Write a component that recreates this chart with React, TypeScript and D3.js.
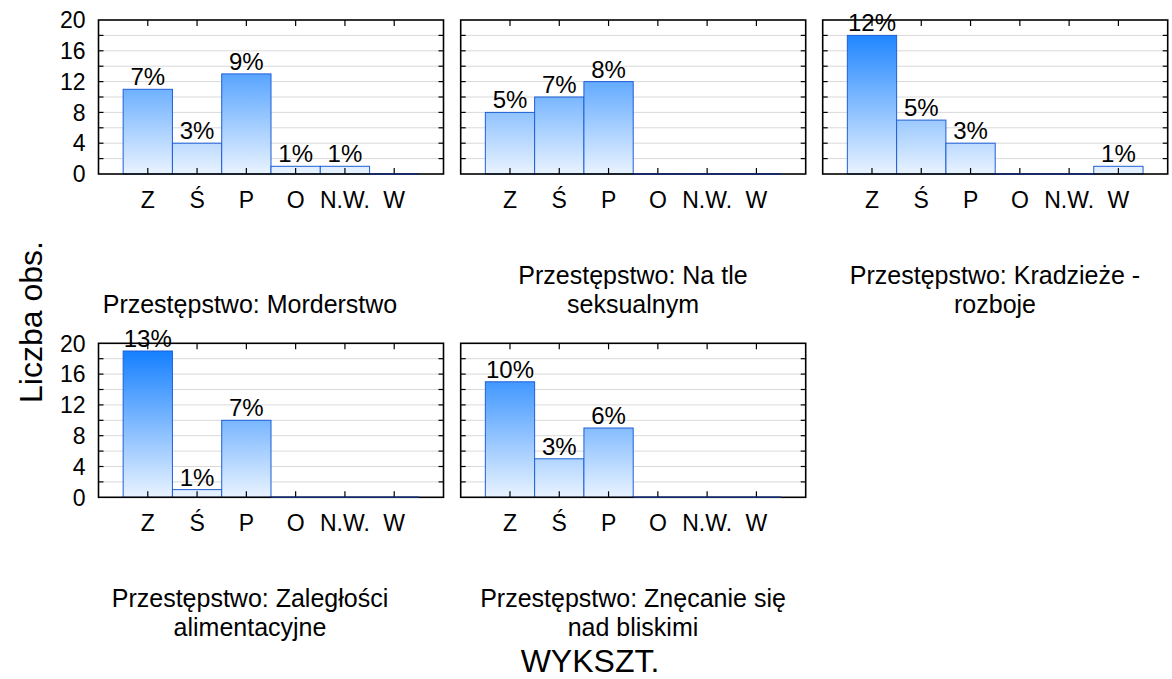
import React from 'react';
import * as d3 from 'd3';

const categories = ['Z', 'Ś', 'P', 'O', 'N.W.', 'W'];
const panelTitles = [
  ['Przestępstwo: Morderstwo'],
  ['Przestępstwo: Na tle', 'seksualnym'],
  ['Przestępstwo: Kradzieże -', 'rozboje'],
  ['Przestępstwo: Zaległości', 'alimentacyjne'],
  ['Przestępstwo: Znęcanie się', 'nad bliskimi'],
];
const counts = [
  [11, 4, 13, 1, 1, 0],
  [8, 10, 12, 0, 0, 0],
  [18, 7, 4, 0, 0, 1],
  [19, 1, 10, 0, 0, 0],
  [15, 5, 9, 0, 0, 0],
];
const yTicks = [0, 4, 8, 12, 16, 20];
const yGrid = [2, 4, 6, 8, 10, 12, 14, 16, 18];

const total = d3.sum(counts.flat());

const colLeft = [98.5, 460.7, 822.7];
const rowTop = [20, 343.3];
const titleCx = [250, 633, 995];
const pw = 345;
const ph = 154;
const font = 'Liberation Sans, Arial, Helvetica, sans-serif';
const barStroke = '#1f5fd6';

const Panel = ({ idx }: { idx: number }) => {
  const col = idx % 3;
  const row = Math.floor(idx / 3);
  const left = colLeft[col];
  const top = rowTop[row];
  const x = d3.scaleLinear().domain([0, 7]).range([left, left + pw]);
  const y = d3.scaleLinear().domain([0, 20]).range([top + ph, top]);
  const values = counts[idx];
  const gid = `grad${idx}`;
  const title = panelTitles[idx];
  const lastBase = top + ph + 139;

  return (
    <g>
      <defs>
        <linearGradient id={gid} gradientUnits="userSpaceOnUse" x1={0} x2={0} y1={y(20)} y2={y(0)}>
          <stop offset="0%" stopColor="#0a7aff" />
          <stop offset="100%" stopColor="#e9f3ff" />
        </linearGradient>
      </defs>
      <rect x={left} y={top} width={pw} height={ph} fill="#fff" />
      {yGrid.map(v => (
        <line key={v} x1={left} x2={left + pw} y1={y(v)} y2={y(v)} stroke="#d9d9d9" strokeWidth={1} />
      ))}
      {values.map((v, i) =>
        v > 0 ? (
          <rect
            key={i}
            x={x(i + 0.5)}
            y={y(v)}
            width={x(i + 1.5) - x(i + 0.5)}
            height={y(0) - y(v)}
            fill={`url(#${gid})`}
            stroke={barStroke}
            strokeWidth={1}
          />
        ) : null
      )}
      {/* ticks */}
      {yGrid.map(v => (
        <g key={'t' + v}>
          <line x1={left} x2={left + 5} y1={y(v)} y2={y(v)} stroke="#000" strokeWidth={1.2} />
          <line x1={left + pw - 5} x2={left + pw} y1={y(v)} y2={y(v)} stroke="#000" strokeWidth={1.2} />
        </g>
      ))}
      {categories.map((c, i) => (
        <g key={'xt' + i}>
          <line x1={x(i + 1)} x2={x(i + 1)} y1={top} y2={top + 6} stroke="#000" strokeWidth={1.2} />
          <line x1={x(i + 1)} x2={x(i + 1)} y1={top + ph - 6} y2={top + ph} stroke="#000" strokeWidth={1.2} />
          <text x={x(i + 1)} y={top + ph + 34} textAnchor="middle" fontSize={23} fontFamily={font}>
            {c}
          </text>
        </g>
      ))}
      <rect x={left} y={top} width={pw} height={ph} fill="none" stroke="#000" strokeWidth={1.6} />
      {values.map((v, i) =>
        v === 0 ? (
          <line key={'z' + i} x1={x(i + 0.5)} x2={x(i + 1.5)} y1={y(0)} y2={y(0)} stroke="#102a78" strokeWidth={1.6} />
        ) : null
      )}
      {values.map((v, i) =>
        v > 0 ? (
          <text key={'p' + i} x={x(i + 1)} y={y(v) - 4} textAnchor="middle" fontSize={24} fontFamily={font}>
            {Math.round((v / total) * 100)}%
          </text>
        ) : null
      )}
      {col === 0 &&
        yTicks.map(v => (
          <text key={'yl' + v} x={left - 13} y={y(v)} dy="0.36em" textAnchor="end" fontSize={23} fontFamily={font}>
            {v}
          </text>
        ))}
      {title.map((t, k) => (
        <text
          key={'ti' + k}
          x={titleCx[col]}
          y={lastBase - (title.length - 1 - k) * 29}
          textAnchor="middle"
          fontSize={25}
          fontFamily={font}
        >
          {t}
        </text>
      ))}
    </g>
  );
};

export default function App() {
  return (
    <svg
      width={1172}
      height={679}
      style={{ position: 'absolute', left: 0, top: 0, background: '#fff' }}
    >
      {counts.map((_, i) => (
        <Panel key={i} idx={i} />
      ))}
      <text
        transform="translate(42,322) rotate(-90)"
        textAnchor="middle"
        fontSize={32}
        fontFamily={font}
      >
        Liczba obs.
      </text>
      <text x={590} y={672} textAnchor="middle" fontSize={32} fontFamily={font}>
        WYKSZT.
      </text>
    </svg>
  );
}
